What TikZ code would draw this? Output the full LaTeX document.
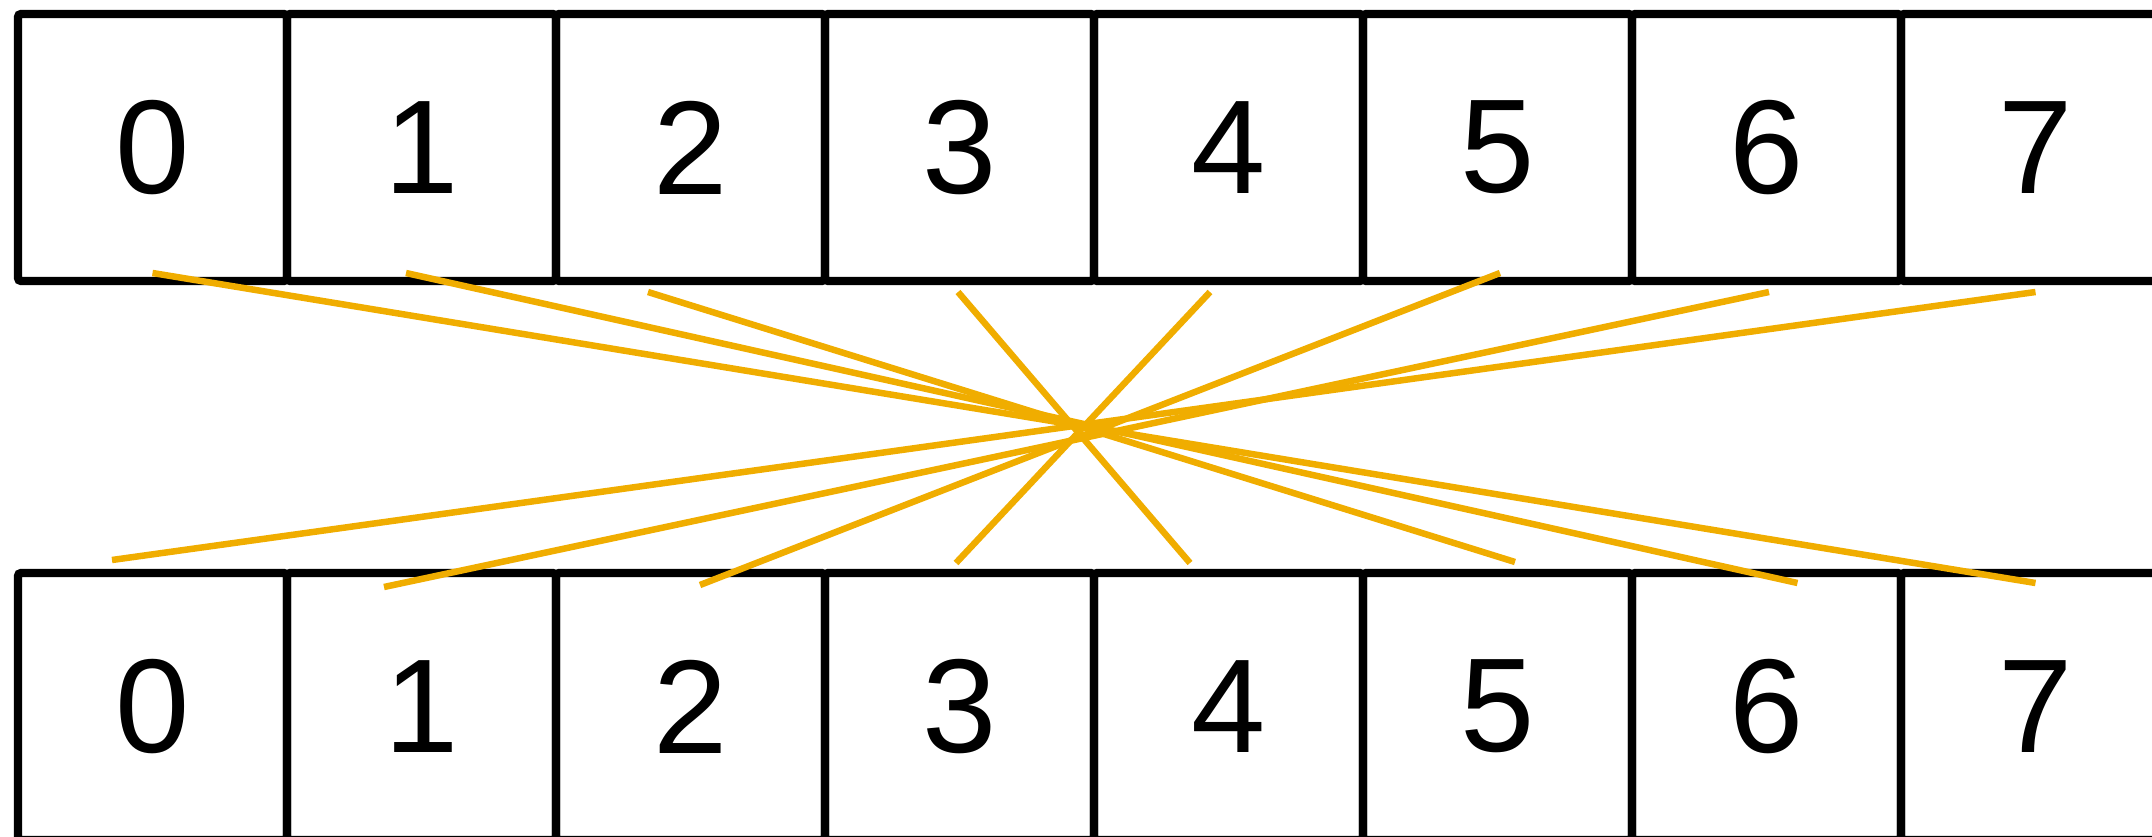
\documentclass[tikz,border=0pt]{standalone}
\usepackage{fontspec}
\setmainfont{Liberation Sans}
\usetikzlibrary{positioning, calc}
\definecolor{swapyellow}{RGB}{240, 173, 0}
\tikzset{
  cell/.style={
    rectangle, rounded corners=0.8pt,
    draw=black, line width=2.3pt,
    minimum width=2.69cm, minimum height=2.67cm,
    inner sep=0pt, outer sep=0pt,
    font=\fontsize{38}{40}\selectfont
  },
  swap/.style={line width=1.85pt, color=swapyellow},
}

\begin{document}
\begin{tikzpicture}[node distance=0pt]
  \useasboundingbox (0,0) rectangle (21.52,-8.37);
  % input row
  \node[cell] (t0) at (1.525,-1.475) {0};
  \node[cell, right=of t0] (t1) {1};
  \node[cell, right=of t1] (t2) {2};
  \node[cell, right=of t2] (t3) {3};
  \node[cell, right=of t3] (t4) {4};
  \node[cell, right=of t4] (t5) {5};
  \node[cell, right=of t5] (t6) {6};
  \node[cell, right=of t6] (t7) {7};
  % output row
  \node[cell] (b0) at (1.525,-7.065) {0};
  \node[cell, right=of b0] (b1) {1};
  \node[cell, right=of b1] (b2) {2};
  \node[cell, right=of b2] (b3) {3};
  \node[cell, right=of b3] (b4) {4};
  \node[cell, right=of b4] (b5) {5};
  \node[cell, right=of b5] (b6) {6};
  \node[cell, right=of b6] (b7) {7};
  % i -> 7-i
  \draw[swap] ($(t0.south)+(0,0.08)$) -- ($(b7.north)+(0,-0.10)$);
  \draw[swap] ($(t1.south)+(-0.155,0.08)$) -- ($(b6.north)+(0.31,-0.10)$);
  \draw[swap] ($(t2.south)+(-0.425,-0.11)$) -- ($(b5.north)+(0.175,0.11)$);
  \draw[swap] ($(t3.south)+(-0.015,-0.11)$) -- ($(b4.north)+(-0.385,0.10)$);
  \draw[swap] ($(t4.south)+(-0.185,-0.11)$) -- ($(b3.north)+(-0.035,0.10)$);
  \draw[swap] ($(t5.south)+(0.025,0.08)$) -- ($(b2.north)+(0.095,-0.12)$);
  \draw[swap] ($(t6.south)+(0.025,-0.11)$) -- ($(b1.north)+(-0.375,-0.14)$);
  \draw[swap] ($(t7.south)+(0,-0.11)$) -- ($(b0.north)+(-0.405,0.13)$);
\end{tikzpicture}
\end{document}
